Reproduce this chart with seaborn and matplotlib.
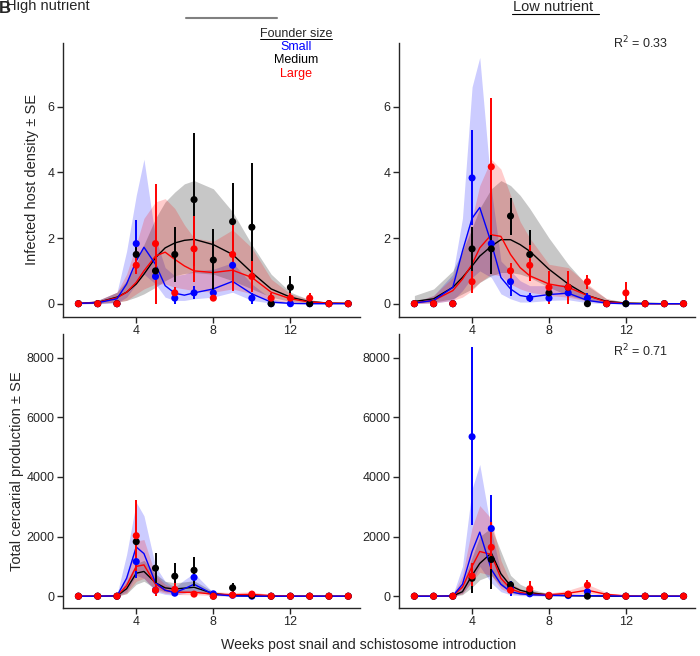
import numpy as np
import pandas as pd
import seaborn as sns
import matplotlib.pyplot as plt

# observed weeks and model-fit weeks
WEEKS = list(range(1, 16))
FIT_WEEKS = [1, 2, 3, 3.5, 4, 4.4, 5, 5.5, 6, 6.5, 7, 8, 9, 10, 11, 12, 13, 14, 15]
GROUPS = ["Small", "Medium", "Large"]

# ---- High nutrient, infected host density ----
HD_OBS_SMALL = [0, 0, 0, 1.83, 0.83, 0.17, 0.33, 0.33, 1.17, 0.17, 0, 0, 0, 0, 0]
HD_OBS_MEDIUM = [0, 0, 0, 1.5, 1.0, 1.5, 3.17, 1.33, 2.5, 2.33, 0, 0.5, 0, 0, 0]
HD_OBS_LARGE = [0, 0, 0, 1.17, 1.83, 0.33, 1.67, 0.17, 1.5, 0.83, 0.17, 0.17, 0.17, 0, 0]
HD_ERR_SMALL = [(4, 1.1, 2.55), (6, 0.0, 0.35), (7, 0.15, 0.55), (9, 0.6, 1.4), (10, 0.0, 0.33)]
HD_ERR_MEDIUM = [(4, 1.2, 1.9), (5, 0.8, 1.2), (6, 0.67, 2.33), (7, 1.15, 5.2), (8, 0.38, 2.28),
                 (9, 1.33, 3.67), (10, 0.4, 4.28), (12, 0.15, 0.85)]
HD_ERR_LARGE = [(4, 0.9, 1.45), (5, 0.0, 3.65), (6, 0.17, 0.5), (7, 0.67, 2.67), (9, 0.4, 2.5),
                (10, 0.35, 1.3), (11, 0.0, 0.33), (12, 0.0, 0.33), (13, 0.0, 0.33)]
HD_FIT_SMALL = [0.01, 0.03, 0.15, 0.6, 1.3, 1.72, 1.2, 0.55, 0.32, 0.26, 0.33, 0.45, 0.68, 0.3, 0.05, 0.01, 0, 0, 0]
HD_LO_SMALL = [0, 0, 0.02, 0.2, 0.6, 0.9, 0.6, 0.2, 0.1, 0.1, 0.15, 0.2, 0.35, 0.1, 0.02, 0, 0, 0, 0]
HD_HI_SMALL = [0.03, 0.1, 0.35, 1.6, 3.3, 4.4, 2.0, 1.1, 0.85, 0.9, 1.0, 1.05, 1.25, 0.6, 0.15, 0.04, 0.01, 0, 0]
HD_FIT_MEDIUM = [0.01, 0.04, 0.2, 0.35, 0.6, 0.9, 1.4, 1.7, 1.85, 1.93, 1.96, 1.8, 1.5, 0.95, 0.45, 0.2, 0.06, 0.02, 0.01]
HD_LO_MEDIUM = [0, 0.01, 0.05, 0.1, 0.2, 0.3, 0.5, 0.7, 0.85, 0.92, 0.95, 0.9, 0.7, 0.45, 0.2, 0.07, 0.02, 0, 0]
HD_HI_MEDIUM = [0.03, 0.1, 0.35, 0.7, 1.2, 1.8, 2.6, 3.1, 3.4, 3.65, 3.75, 3.5, 2.8, 1.8, 0.9, 0.35, 0.12, 0.04, 0.01]
HD_FIT_LARGE = [0.01, 0.04, 0.18, 0.35, 0.65, 1.0, 1.45, 1.57, 1.35, 1.15, 1.0, 0.95, 1.02, 0.8, 0.35, 0.15, 0.05, 0.02, 0.01]
HD_LO_LARGE = [0, 0.01, 0.05, 0.1, 0.3, 0.45, 0.6, 0.6, 0.5, 0.45, 0.4, 0.35, 0.45, 0.3, 0.1, 0.04, 0.01, 0, 0]
HD_HI_LARGE = [0.03, 0.1, 0.35, 0.9, 1.8, 2.6, 3.1, 3.2, 2.9, 2.4, 2.0, 1.9, 2.25, 1.7, 0.75, 0.3, 0.12, 0.04, 0.01]

# ---- Low nutrient, infected host density ----
LD_OBS_SMALL = [0, 0, 0, 3.83, 1.83, 0.67, 0.17, 0.17, 0.33, 0.17, 0, 0, 0, 0, 0]
LD_OBS_MEDIUM = [0, 0, 0, 1.67, 1.67, 2.67, 1.5, 0.33, 0.5, 0, 0, 0, 0, 0, 0]
LD_OBS_LARGE = [0, 0, 0, 0.67, 4.17, 1.0, 1.17, 0.5, 0.5, 0.67, 0, 0.33, 0, 0, 0]
LD_ERR_SMALL = [(4, 2.4, 5.28), (5, 1.5, 2.1), (6, 0.25, 0.9), (7, 0.05, 0.33), (9, 0.2, 0.45), (10, 0.0, 0.33)]
LD_ERR_MEDIUM = [(4, 0.95, 2.35), (5, 0.9, 2.1), (6, 2.1, 3.22), (7, 0.8, 2.25)]
LD_ERR_LARGE = [(4, 0.33, 1.0), (5, 2.1, 6.25), (6, 0.75, 1.25), (7, 0.7, 1.8), (8, 0.0, 1.0),
                (9, 0.0, 1.0), (10, 0.45, 0.88), (12, 0.0, 0.67)]
LD_FIT_SMALL = [0.02, 0.1, 0.5, 1.6, 2.6, 2.93, 1.85, 0.8, 0.45, 0.25, 0.2, 0.28, 0.32, 0.1, 0.02, 0, 0, 0, 0]
LD_LO_SMALL = [0, 0.02, 0.1, 0.4, 0.8, 1.0, 0.8, 0.3, 0.15, 0.05, 0.05, 0.1, 0.12, 0.03, 0, 0, 0, 0, 0]
LD_HI_SMALL = [0.05, 0.25, 0.9, 2.6, 6.6, 7.5, 3.5, 1.3, 1.0, 0.7, 0.55, 0.55, 0.6, 0.3, 0.05, 0.01, 0, 0, 0]
LD_FIT_MEDIUM = [0.07, 0.15, 0.5, 0.8, 1.15, 1.45, 1.75, 1.95, 1.95, 1.8, 1.6, 1.05, 0.6, 0.25, 0.07, 0.02, 0.01, 0, 0]
LD_LO_MEDIUM = [0.02, 0.05, 0.15, 0.3, 0.45, 0.65, 0.85, 0.95, 0.95, 0.9, 0.8, 0.5, 0.25, 0.1, 0.02, 0, 0, 0, 0]
LD_HI_MEDIUM = [0.25, 0.45, 1.0, 1.6, 2.3, 2.9, 3.5, 3.75, 3.6, 3.3, 2.9, 2.0, 1.2, 0.55, 0.15, 0.05, 0.01, 0, 0]
LD_FIT_LARGE = [0.03, 0.1, 0.4, 0.75, 1.2, 1.7, 2.1, 2.05, 1.5, 1.1, 0.85, 0.6, 0.5, 0.25, 0.05, 0.01, 0, 0, 0]
LD_LO_LARGE = [0, 0.02, 0.1, 0.2, 0.4, 0.65, 0.9, 0.85, 0.6, 0.45, 0.35, 0.25, 0.2, 0.08, 0.01, 0, 0, 0, 0]
LD_HI_LARGE = [0.05, 0.25, 0.8, 1.6, 2.6, 3.6, 4.4, 4.1, 3.3, 2.5, 2.0, 1.2, 1.1, 0.6, 0.15, 0.03, 0.01, 0, 0]

# ---- High nutrient, cercarial production ----
HC_OBS_SMALL = [0, 0, 0, 1160, 200, 100, 630, 80, 30, 0, 0, 0, 0, 0, 0]
HC_OBS_MEDIUM = [0, 0, 0, 1830, 940, 670, 870, 0, 280, 20, 0, 0, 0, 0, 0]
HC_OBS_LARGE = [0, 0, 0, 2030, 200, 230, 70, 0, 40, 70, 0, 0, 0, 0, 0]
HC_ERR_SMALL = [(4, 600, 1700), (7, 350, 800)]
HC_ERR_MEDIUM = [(4, 1500, 2000), (5, 450, 1450), (6, 170, 1130), (7, 350, 1330), (9, 130, 450)]
HC_ERR_LARGE = [(4, 850, 3240), (5, 0, 400), (6, 0, 450)]
HC_FIT_SMALL = [0, 0, 10, 600, 1650, 1430, 450, 200, 120, 250, 400, 60, 10, 0, 0, 0, 0, 0, 0]
HC_LO_SMALL = [0, 0, 0, 150, 700, 600, 150, 60, 30, 100, 200, 20, 0, 0, 0, 0, 0, 0, 0]
HC_HI_SMALL = [0, 0, 50, 1400, 3150, 2700, 1000, 500, 300, 550, 770, 120, 30, 0, 0, 0, 0, 0, 0]
HC_FIT_MEDIUM = [0, 0, 10, 250, 770, 830, 450, 280, 240, 270, 300, 90, 20, 10, 0, 0, 0, 0, 0]
HC_LO_MEDIUM = [0, 0, 0, 80, 400, 500, 250, 150, 130, 140, 150, 40, 5, 0, 0, 0, 0, 0, 0]
HC_HI_MEDIUM = [0, 0, 30, 500, 1100, 1200, 750, 500, 450, 480, 520, 150, 60, 20, 0, 0, 0, 0, 0]
HC_FIT_LARGE = [0, 0, 10, 350, 1000, 1050, 400, 200, 140, 130, 130, 70, 50, 60, 20, 5, 0, 0, 0]
HC_LO_LARGE = [0, 0, 0, 100, 500, 600, 200, 100, 60, 50, 50, 20, 15, 15, 5, 0, 0, 0, 0]
HC_HI_LARGE = [0, 0, 40, 700, 1850, 1900, 700, 400, 250, 200, 200, 150, 120, 150, 50, 10, 0, 0, 0]

# ---- Low nutrient, cercarial production ----
LC_OBS_SMALL = [0, 0, 0, 5350, 2270, 300, 80, 20, 20, 150, 0, 0, 0, 0, 0]
LC_OBS_MEDIUM = [0, 0, 0, 600, 1230, 380, 150, 0, 50, 0, 0, 0, 0, 0, 0]
LC_OBS_LARGE = [0, 0, 0, 680, 1640, 200, 250, 30, 70, 370, 0, 0, 0, 0, 0]
LC_ERR_SMALL = [(4, 2390, 8350), (5, 1350, 3380), (6, 0, 500)]
LC_ERR_MEDIUM = [(4, 120, 1000), (5, 250, 1400)]
LC_ERR_LARGE = [(4, 350, 1100), (5, 900, 2500), (7, 100, 500), (10, 180, 550)]
LC_FIT_SMALL = [0, 0, 10, 400, 1500, 2150, 900, 400, 150, 80, 50, 30, 20, 20, 10, 0, 0, 0, 0]
LC_LO_SMALL = [0, 0, 0, 100, 500, 1000, 450, 150, 50, 20, 10, 5, 5, 5, 0, 0, 0, 0, 0]
LC_HI_SMALL = [0, 0, 40, 1000, 3600, 4420, 2200, 800, 300, 150, 100, 60, 50, 50, 20, 0, 0, 0, 0]
LC_FIT_MEDIUM = [0, 0, 10, 150, 700, 1100, 1450, 750, 350, 200, 120, 40, 20, 10, 0, 0, 0, 0, 0]
LC_LO_MEDIUM = [0, 0, 0, 50, 300, 550, 700, 350, 150, 80, 40, 10, 5, 0, 0, 0, 0, 0, 0]
LC_HI_MEDIUM = [0, 0, 30, 400, 1300, 2000, 2300, 1500, 700, 400, 250, 80, 40, 20, 0, 0, 0, 0, 0]
LC_FIT_LARGE = [0, 0, 10, 300, 1000, 1500, 1400, 600, 250, 130, 70, 50, 100, 200, 60, 10, 0, 0, 0]
LC_LO_LARGE = [0, 0, 0, 80, 500, 800, 700, 250, 100, 50, 30, 20, 50, 100, 20, 0, 0, 0, 0]
LC_HI_LARGE = [0, 0, 40, 700, 2300, 3040, 2600, 1200, 450, 250, 150, 100, 200, 400, 120, 20, 0, 0, 0]

COLORS = {"Small": "#0000ff", "Medium": "#000000", "Large": "#ff0000"}
BAND_ALPHA = {"Small": 0.2, "Medium": 0.22, "Large": 0.2}

panels = [
    dict(obs=[HD_OBS_SMALL, HD_OBS_MEDIUM, HD_OBS_LARGE], err=[HD_ERR_SMALL, HD_ERR_MEDIUM, HD_ERR_LARGE],
         fit=[HD_FIT_SMALL, HD_FIT_MEDIUM, HD_FIT_LARGE], lo=[HD_LO_SMALL, HD_LO_MEDIUM, HD_LO_LARGE],
         hi=[HD_HI_SMALL, HD_HI_MEDIUM, HD_HI_LARGE]),
    dict(obs=[LD_OBS_SMALL, LD_OBS_MEDIUM, LD_OBS_LARGE], err=[LD_ERR_SMALL, LD_ERR_MEDIUM, LD_ERR_LARGE],
         fit=[LD_FIT_SMALL, LD_FIT_MEDIUM, LD_FIT_LARGE], lo=[LD_LO_SMALL, LD_LO_MEDIUM, LD_LO_LARGE],
         hi=[LD_HI_SMALL, LD_HI_MEDIUM, LD_HI_LARGE]),
    dict(obs=[HC_OBS_SMALL, HC_OBS_MEDIUM, HC_OBS_LARGE], err=[HC_ERR_SMALL, HC_ERR_MEDIUM, HC_ERR_LARGE],
         fit=[HC_FIT_SMALL, HC_FIT_MEDIUM, HC_FIT_LARGE], lo=[HC_LO_SMALL, HC_LO_MEDIUM, HC_LO_LARGE],
         hi=[HC_HI_SMALL, HC_HI_MEDIUM, HC_HI_LARGE]),
    dict(obs=[LC_OBS_SMALL, LC_OBS_MEDIUM, LC_OBS_LARGE], err=[LC_ERR_SMALL, LC_ERR_MEDIUM, LC_ERR_LARGE],
         fit=[LC_FIT_SMALL, LC_FIT_MEDIUM, LC_FIT_LARGE], lo=[LC_LO_SMALL, LC_LO_MEDIUM, LC_LO_LARGE],
         hi=[LC_HI_SMALL, LC_HI_MEDIUM, LC_HI_LARGE]),
]

sns.set_style("ticks")
plt.rcParams["font.family"] = ["Liberation Sans", "DejaVu Sans"]

fig = plt.figure(figsize=(7, 6.56), dpi=100)
rects = [
    [0.090, 0.517, 0.424, 0.418],
    [0.570, 0.517, 0.423, 0.418],
    [0.090, 0.073, 0.424, 0.418],
    [0.570, 0.073, 0.423, 0.418],
]
axes = [fig.add_axes(r) for r in rects]

for i, (ax, p) in enumerate(zip(axes, panels)):
    # model bands first
    for g, lo, hi in zip(GROUPS, p["lo"], p["hi"]):
        ax.fill_between(FIT_WEEKS, lo, hi, color=COLORS[g], alpha=BAND_ALPHA[g], lw=0)
    fit_df = pd.concat([pd.DataFrame({"week": FIT_WEEKS, "val": f, "size": g})
                        for g, f in zip(GROUPS, p["fit"])])
    sns.lineplot(data=fit_df, x="week", y="val", hue="size", palette=COLORS,
                 hue_order=["Medium", "Large", "Small"], lw=1.0, ax=ax, legend=False, zorder=3)
    # observed error bars and points
    for g, errs in zip(GROUPS, p["err"]):
        for w, lo, hi in errs:
            ax.vlines(w, lo, hi, color=COLORS[g], lw=1.4, zorder=4)
    obs_df = pd.concat([pd.DataFrame({"week": WEEKS, "val": o, "size": g})
                        for g, o in zip(GROUPS, p["obs"])])
    sns.scatterplot(data=obs_df, x="week", y="val", hue="size", palette=COLORS,
                    hue_order=["Small", "Medium", "Large"], s=26, edgecolor="none",
                    ax=ax, legend=False, zorder=5)

    ax.set_xlim(0.2, 15.6)
    ax.set_xticks([4, 8, 12])
    ax.set_xlabel("")
    ax.set_ylabel("")
    if i < 2:
        ax.set_ylim(-0.4, 7.95)
        ax.set_yticks([0, 2, 4, 6])
    else:
        ax.set_ylim(-400, 8800)
        ax.set_yticks([0, 2000, 4000, 6000, 8000])
    ax.tick_params(labelsize=9, length=4, width=1, direction="out", pad=2)
    for s in ["left", "bottom"]:
        ax.spines[s].set_linewidth(1.0)
    sns.despine(ax=ax)

axes[0].set_ylabel("Infected host density \u00b1 SE", fontsize=10.5, labelpad=6)
axes[2].set_ylabel("Total cercarial production \u00b1 SE", fontsize=10.5, labelpad=2)
fig.text(0.526, 0.006, "Weeks post snail and schistosome introduction", ha="center",
         va="bottom", fontsize=10.2)

# titles
fig.text(0.008, 0.985, "High nutrient", ha="left", va="baseline", fontsize=10.5)
fig.text(-0.002, 0.999, "B", ha="left", va="top", fontsize=12, fontweight="bold")
fig.text(0.79, 0.983, "Low nutrient", ha="center", va="baseline", fontsize=10.5)
fig.add_artist(plt.Line2D([0.731, 0.856], [0.979, 0.979], color="black", lw=0.8))
fig.add_artist(plt.Line2D([0.266, 0.396], [0.973, 0.973], color="#808080", lw=1.5))

# founder size key
fig.text(0.423, 0.948, "Founder size", ha="center", va="center", fontsize=9)
fig.add_artist(plt.Line2D([0.372, 0.474], [0.940, 0.940], color="black", lw=0.7))
fig.text(0.423, 0.928, "Small", ha="center", va="center", fontsize=9, color=COLORS["Small"])
fig.text(0.423, 0.908, "Medium", ha="center", va="center", fontsize=9, color=COLORS["Medium"])
fig.text(0.423, 0.887, "Large", ha="center", va="center", fontsize=9, color=COLORS["Large"])

fig.text(0.915, 0.934, "R$^2$ = 0.33", ha="center", va="center", fontsize=9)
fig.text(0.915, 0.465, "R$^2$ = 0.71", ha="center", va="center", fontsize=9)

fig.savefig("out.png", dpi=100)
